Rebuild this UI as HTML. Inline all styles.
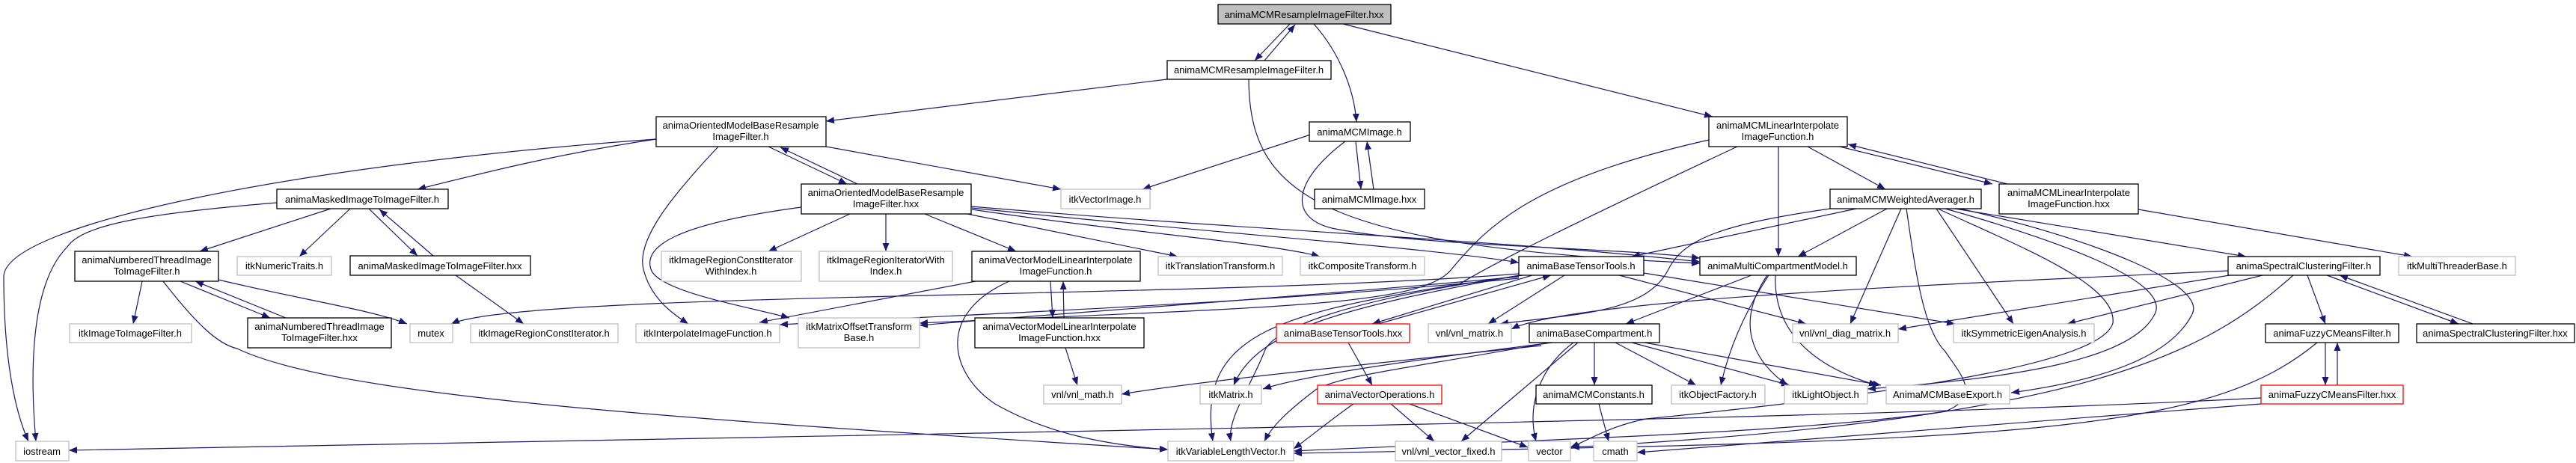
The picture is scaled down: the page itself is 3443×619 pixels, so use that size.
<!DOCTYPE html>
<html><head><meta charset="utf-8"><style>
html,body{margin:0;padding:0;background:#fff;}
svg{display:block;}
text{font-family:"Liberation Sans",sans-serif;font-size:13px;fill:#000;text-anchor:middle;}
.n rect{fill:#fff;stroke:#000;stroke-width:1.3;}
.g rect{fill:#fff;stroke:#bfbfbf;stroke-width:1.3;}
.r rect{fill:#fff;stroke:#ff0000;stroke-width:1.3;}
.e path{fill:none;stroke:#191970;stroke-width:1.2;marker-end:url(#ah);}
</style></head><body>
<svg width="3443" height="619" viewBox="0 0 3443 619" xmlns="http://www.w3.org/2000/svg">
<defs><marker id="ah" markerUnits="userSpaceOnUse" markerWidth="12" markerHeight="10" refX="11" refY="4.5" orient="auto"><path d="M0,0 L11,4.5 L0,9 z" fill="#191970"/></marker></defs>
<g class="e">
<path d="M1724 32 L1677 81"/>
<path d="M1690 81 L1731 33"/>
<path d="M1756 32 C1790 70 1810 120 1813 163"/>
<path d="M1795 32 L2289 156"/>
<path d="M1560 106 L1104 162"/>
<path d="M1669 106 C1670 260 1760 330 2272 352"/>
<path d="M877 186 C750 205 650 230 558 253"/>
<path d="M877 186 C400 220 5 300 5 370 C5 480 20 550 38 590"/>
<path d="M1027 196 L1132 246"/>
<path d="M1146 246 L1043 197"/>
<path d="M1104 196 L1418 253"/>
<path d="M960 196 C900 260 850 320 860 360 C870 400 900 420 920 433"/>
<path d="M442 279 L267 336"/>
<path d="M468 279 L400 343"/>
<path d="M493 279 L558 342"/>
<path d="M579 342 L507 280"/>
<path d="M370 271 C200 285 110 300 90 330 C40 380 40 500 48 590"/>
<path d="M609 368 L700 433"/>
<path d="M190 376 L178 433"/>
<path d="M241 376 L361 425"/>
<path d="M382 425 L261 376"/>
<path d="M292 374 C400 400 500 415 544 433"/>
<path d="M218 376 C260 430 290 460 317 466 C450 530 900 560 1561 601"/>
<path d="M2030 366 C1600 400 700 390 603 433"/>
<path d="M3022 532 C2500 560 1500 575 92 602"/>
<path d="M1136 286 L1027 336"/>
<path d="M1184 286 L1184 336"/>
<path d="M1236 286 L1358 336"/>
<path d="M1293 286 L1574 343"/>
<path d="M1299 280 C1500 310 1700 325 1764 343"/>
<path d="M1299 278 C1600 310 1900 330 2030 351"/>
<path d="M1298 276 C1700 310 2000 320 2272 350"/>
<path d="M1071 277 C900 300 860 330 870 360 C880 390 1000 410 1055 425"/>
<path d="M1304 376 L1015 431"/>
<path d="M1404 376 L1407 425"/>
<path d="M1422 425 L1421 376"/>
<path d="M1349 376 C1250 420 1270 500 1330 540 C1400 580 1480 595 1561 601"/>
<path d="M1424 465 L1440 515"/>
<path d="M1812 189 L1819 253"/>
<path d="M1836 253 L1827 189"/>
<path d="M1767 175 L1527 253"/>
<path d="M1798 189 C1730 240 1720 290 1780 305 C1900 330 2150 330 2272 345"/>
<path d="M2416 196 L2520 253"/>
<path d="M2377 196 L2377 343"/>
<path d="M2459 196 L2663 246"/>
<path d="M2683 246 L2470 193"/>
<path d="M2284 187 C2050 240 1990 300 1940 360 C1900 410 1700 410 1229 432"/>
<path d="M2322 196 C2100 300 2000 350 1950 380 C1700 420 1600 450 1621 590"/>
<path d="M2481 279 L2181 343"/>
<path d="M2522 279 L2403 343"/>
<path d="M2446 279 C2300 300 2250 320 2230 360 C2200 420 2100 420 2005 433"/>
<path d="M2541 279 L2473 433"/>
<path d="M2588 279 L2691 433"/>
<path d="M2613 279 L3002 343"/>
<path d="M2620 279 C2800 320 2950 380 2930 420 C2900 480 2800 510 2688 525"/>
<path d="M2600 279 C2780 330 2900 380 2880 420 C2850 480 2700 505 2496 520"/>
<path d="M2590 279 C2700 330 2830 380 2824 432 C2810 480 2600 520 2200 560 C2150 570 2120 590 2099 598"/>
<path d="M2548 279 C2560 360 2570 440 2600 470 C2620 500 2650 530 2600 550 C2400 580 2000 590 1729 603"/>
<path d="M2858 280 L3224 343"/>
<path d="M2048 368 L1834 433"/>
<path d="M1842 433 L2073 368"/>
<path d="M2091 368 L1989 433"/>
<path d="M2164 368 L2414 433"/>
<path d="M2197 365 L2613 433"/>
<path d="M2031 368 C1800 410 1680 440 1649 515"/>
<path d="M2035 368 C1800 400 1700 440 1690 470 C1670 520 1640 560 1645 590"/>
<path d="M2030 370 C1700 400 1400 420 1229 435"/>
<path d="M2030 372 C1700 405 1300 420 1042 434"/>
<path d="M1802 458 L1834 515"/>
<path d="M1809 540 C1780 560 1750 585 1729 600"/>
<path d="M1859 540 L1917 590"/>
<path d="M1884 540 L2042 598"/>
<path d="M2341 368 L2173 433"/>
<path d="M2364 368 C2330 420 2310 470 2300 515"/>
<path d="M2362 368 C2320 430 2340 480 2389 515"/>
<path d="M2373 368 C2370 440 2420 490 2509 515"/>
<path d="M2131 458 L2131 515"/>
<path d="M2159 458 L2267 515"/>
<path d="M2181 458 L2392 515"/>
<path d="M2198 458 L2514 515"/>
<path d="M2109 458 L1953 590"/>
<path d="M2103 458 C2060 490 2040 540 2053 590"/>
<path d="M2070 458 C1900 490 1800 500 1760 520 C1720 550 1700 570 1690 590"/>
<path d="M2075 458 C1900 480 1750 500 1688 520"/>
<path d="M2060 462 C1800 490 1600 510 1499 527"/>
<path d="M2137 540 L2150 590"/>
<path d="M2978 362 C2600 380 2100 400 2020 440"/>
<path d="M3024 368 L2763 433"/>
<path d="M2980 368 L2537 440"/>
<path d="M3084 368 L3108 433"/>
<path d="M3110 368 L3286 433"/>
<path d="M3305 433 L3127 368"/>
<path d="M3065 368 C2950 470 2800 560 2100 598"/>
<path d="M3108 458 L3108 515"/>
<path d="M3124 515 L3124 458"/>
<path d="M3097 458 C2950 580 2700 590 1729 606"/>
<path d="M3022 540 L2188 605"/>
</g>
<g class="n"><rect x="1628" y="6" width="231" height="26" style="fill:#bfbfbf"/><text x="1743" y="24">animaMCMResampleImageFilter.hxx</text></g>
<g class="n"><rect x="1560" y="81" width="219" height="25"/><text x="1669" y="98">animaMCMResampleImageFilter.h</text></g>
<g class="n"><rect x="877" y="156" width="227" height="40"/><text x="990" y="172">animaOrientedModelBaseResample</text><text x="990" y="187">ImageFilter.h</text></g>
<g class="n"><rect x="1071" y="246" width="227" height="40"/><text x="1184" y="262">animaOrientedModelBaseResample</text><text x="1184" y="277">ImageFilter.hxx</text></g>
<g class="g"><rect x="1418" y="253" width="119" height="26"/><text x="1477" y="271">itkVectorImage.h</text></g>
<g class="n"><rect x="1750" y="163" width="135" height="26"/><text x="1817" y="181">animaMCMImage.h</text></g>
<g class="n"><rect x="1757" y="253" width="147" height="26"/><text x="1830" y="271">animaMCMImage.hxx</text></g>
<g class="n"><rect x="2284" y="156" width="185" height="40"/><text x="2376" y="172">animaMCMLinearInterpolate</text><text x="2376" y="187">ImageFunction.h</text></g>
<g class="n"><rect x="2446" y="253" width="202" height="26"/><text x="2547" y="271">animaMCMWeightedAverager.h</text></g>
<g class="n"><rect x="2672" y="246" width="186" height="40"/><text x="2765" y="262">animaMCMLinearInterpolate</text><text x="2765" y="277">ImageFunction.hxx</text></g>
<g class="n"><rect x="370" y="253" width="229" height="26"/><text x="484" y="271">animaMaskedImageToImageFilter.h</text></g>
<g class="n"><rect x="100" y="336" width="192" height="40"/><text x="196" y="352">animaNumberedThreadImage</text><text x="196" y="367">ToImageFilter.h</text></g>
<g class="g"><rect x="317" y="343" width="126" height="25"/><text x="380" y="360">itkNumericTraits.h</text></g>
<g class="n"><rect x="468" y="342" width="241" height="26"/><text x="588" y="360">animaMaskedImageToImageFilter.hxx</text></g>
<g class="g"><rect x="93" y="433" width="163" height="25"/><text x="174" y="450">itkImageToImageFilter.h</text></g>
<g class="n"><rect x="331" y="425" width="192" height="40"/><text x="427" y="441">animaNumberedThreadImage</text><text x="427" y="456">ToImageFilter.hxx</text></g>
<g class="g"><rect x="548" y="433" width="57" height="25"/><text x="576" y="450">mutex</text></g>
<g class="g"><rect x="629" y="433" width="197" height="25"/><text x="727" y="450">itkImageRegionConstIterator.h</text></g>
<g class="g"><rect x="21" y="590" width="71" height="26"/><text x="56" y="608">iostream</text></g>
<g class="g"><rect x="884" y="336" width="187" height="40"/><text x="977" y="352">itkImageRegionConstIterator</text><text x="977" y="367">WithIndex.h</text></g>
<g class="g"><rect x="1095" y="336" width="178" height="40"/><text x="1184" y="352">itkImageRegionIteratorWith</text><text x="1184" y="367">Index.h</text></g>
<g class="n"><rect x="1299" y="336" width="225" height="40"/><text x="1411" y="352">animaVectorModelLinearInterpolate</text><text x="1411" y="367">ImageFunction.h</text></g>
<g class="g"><rect x="1548" y="343" width="166" height="25"/><text x="1631" y="360">itkTranslationTransform.h</text></g>
<g class="g"><rect x="1738" y="343" width="166" height="25"/><text x="1821" y="360">itkCompositeTransform.h</text></g>
<g class="n"><rect x="2030" y="343" width="167" height="25"/><text x="2113" y="360">animaBaseTensorTools.h</text></g>
<g class="n"><rect x="2272" y="343" width="209" height="25"/><text x="2376" y="360">animaMultiCompartmentModel.h</text></g>
<g class="n"><rect x="2978" y="343" width="203" height="25"/><text x="3079" y="360">animaSpectralClusteringFilter.h</text></g>
<g class="g"><rect x="3206" y="343" width="156" height="25"/><text x="3284" y="360">itkMultiThreaderBase.h</text></g>
<g class="g"><rect x="850" y="433" width="192" height="25"/><text x="946" y="450">itkInterpolateImageFunction.h</text></g>
<g class="g"><rect x="1067" y="425" width="162" height="40"/><text x="1148" y="441">itkMatrixOffsetTransform</text><text x="1148" y="456">Base.h</text></g>
<g class="n"><rect x="1303" y="425" width="226" height="40"/><text x="1416" y="441">animaVectorModelLinearInterpolate</text><text x="1416" y="456">ImageFunction.hxx</text></g>
<g class="r"><rect x="1706" y="433" width="178" height="25"/><text x="1795" y="450">animaBaseTensorTools.hxx</text></g>
<g class="g"><rect x="1909" y="433" width="111" height="25"/><text x="1964" y="450">vnl/vnl_matrix.h</text></g>
<g class="n"><rect x="2044" y="433" width="174" height="25"/><text x="2131" y="450">animaBaseCompartment.h</text></g>
<g class="g"><rect x="2396" y="433" width="141" height="25"/><text x="2466" y="450">vnl/vnl_diag_matrix.h</text></g>
<g class="g"><rect x="2611" y="433" width="188" height="25"/><text x="2705" y="450">itkSymmetricEigenAnalysis.h</text></g>
<g class="n"><rect x="3028" y="433" width="178" height="25"/><text x="3117" y="450">animaFuzzyCMeansFilter.h</text></g>
<g class="n"><rect x="3230" y="433" width="211" height="25"/><text x="3335" y="450">animaSpectralClusteringFilter.hxx</text></g>
<g class="g"><rect x="1395" y="515" width="104" height="25"/><text x="1447" y="532">vnl/vnl_math.h</text></g>
<g class="g"><rect x="1604" y="515" width="82" height="25"/><text x="1645" y="532">itkMatrix.h</text></g>
<g class="r"><rect x="1761" y="515" width="166" height="25"/><text x="1844" y="532">animaVectorOperations.h</text></g>
<g class="n"><rect x="2053" y="515" width="155" height="25"/><text x="2130" y="532">animaMCMConstants.h</text></g>
<g class="g"><rect x="2234" y="515" width="125" height="25"/><text x="2296" y="532">itkObjectFactory.h</text></g>
<g class="g"><rect x="2385" y="515" width="111" height="25"/><text x="2440" y="532">itkLightObject.h</text></g>
<g class="g"><rect x="2521" y="515" width="165" height="25"/><text x="2603" y="532">AnimaMCMBaseExport.h</text></g>
<g class="r"><rect x="3022" y="515" width="190" height="25"/><text x="3117" y="532">animaFuzzyCMeansFilter.hxx</text></g>
<g class="g"><rect x="1561" y="590" width="168" height="26"/><text x="1645" y="608">itkVariableLengthVector.h</text></g>
<g class="g"><rect x="1865" y="590" width="142" height="26"/><text x="1936" y="608">vnl/vnl_vector_fixed.h</text></g>
<g class="g"><rect x="2043" y="590" width="56" height="26"/><text x="2071" y="608">vector</text></g>
<g class="g"><rect x="2130" y="590" width="58" height="26"/><text x="2159" y="608">cmath</text></g>
</svg>
</body></html>
